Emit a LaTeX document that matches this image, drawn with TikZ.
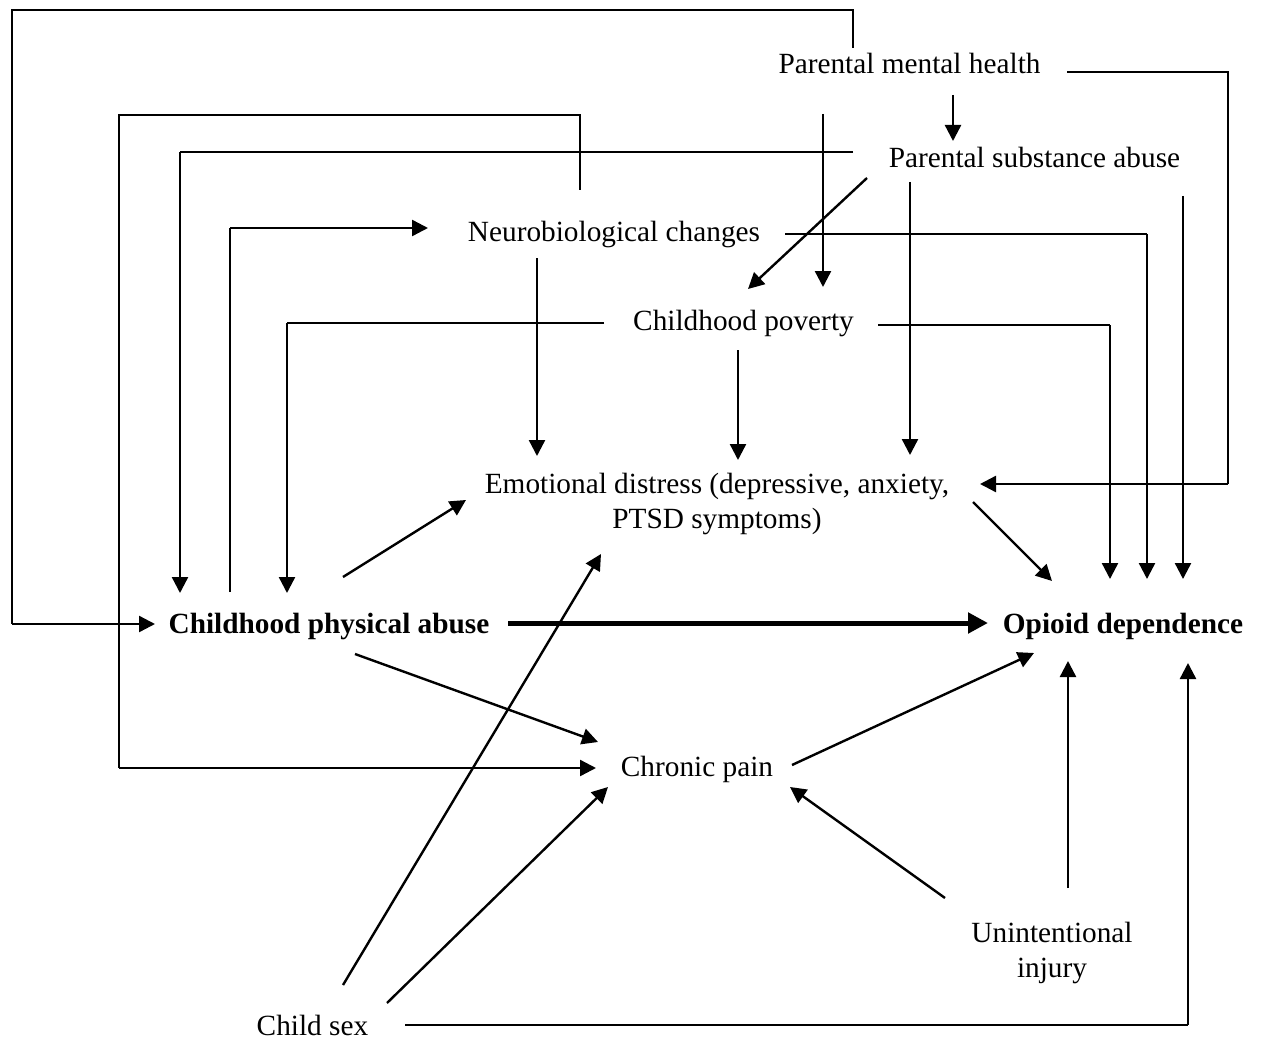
\documentclass[tikz,border=0pt]{standalone}
\usepackage{fontspec}
\setmainfont{Liberation Serif}
\usetikzlibrary{arrows.meta}
\begin{document}
\begin{tikzpicture}[x=1pt,y=-1pt,
  lbl/.style={inner sep=0pt, font=\fontsize{29.3}{35.5}\selectfont},
  wire/.style={line width=1.2pt},
  arr/.style={line width=2.4pt,-{Triangle[length=16pt,width=16pt]}},
  bigarr/.style={line width=5pt,-{Triangle[length=20pt,width=20pt]}}]
\fill[white] (0,0) rectangle (1261,1043);
\useasboundingbox (0,0) rectangle (1261,1043);
% nodes
\node[lbl,anchor=base] (pmh) at (909.5,74) {Parental mental health};
\node[lbl,anchor=base] (psa) at (1034.5,168) {Parental substance abuse};
\node[lbl,anchor=base] (neuro) at (614,241) {Neurobiological changes};
\node[lbl,anchor=base] (pov) at (743.5,330) {Childhood poverty};
\node[lbl,align=center] (emo) at (717,504) {Emotional distress (depressive, anxiety,\\PTSD symptoms)};
\node[lbl,anchor=base] (cpa) at (329,633) {\bfseries Childhood physical abuse};
\node[lbl,anchor=base] (opi) at (1123,633) {\bfseries Opioid dependence};
\node[lbl,anchor=base] (pain) at (697,776) {Chronic pain};
\node[lbl,align=center] (inj) at (1052,953) {Unintentional\\injury};
\node[lbl,anchor=base] (sex) at (312.5,1035) {Child sex};
% bend coordinates
\coordinate (b1) at (12,624);
\coordinate (b2) at (1228,484);
\coordinate (b3) at (180,152);
\coordinate (b4) at (119,768);
\coordinate (b5) at (230,228);
\coordinate (b6) at (1147,234);
\coordinate (b7) at (287,323);
\coordinate (b8) at (1110,325);
\coordinate (b9) at (1188,1025);
% parental mental health
\draw[wire] (853,48) |- (12,10) -- (b1);
\draw[arr] (b1) -- (155,624);
\draw[wire] (1067,72) -| (b2);
\draw[arr] (b2) -- (980,484);
\draw[arr] (953,95) -- (953,141);
\draw[arr] (823,114) -- (823,287);
% parental substance abuse
\draw[wire] (853,152) -- (b3);
\draw[arr] (b3) -- (180,593);
\draw[arr] (867,178) -- (748,289);
\draw[arr] (910,182) -- (910,455);
\draw[arr] (1183,196) -- (1183,579);
% neurobiological changes
\draw[wire] (580,190) |- (119,115) -- (b4);
\draw[arr] (b4) -- (596,768);
\draw[arr] (537,258) -- (537,456);
\draw[wire] (785,234) -- (b6);
\draw[arr] (b6) -- (1147,579);
% childhood physical abuse -> neuro
\draw[wire] (230,592) -- (b5);
\draw[arr] (b5) -- (428,228);
% childhood poverty
\draw[wire] (604,323) -- (b7);
\draw[arr] (b7) -- (287,593);
\draw[arr] (738,350) -- (738,460);
\draw[wire] (878,325) -- (b8);
\draw[arr] (b8) -- (1110,579);
% direct arrows
\draw[arr] (343,577) -- (466,500);
\draw[arr] (973,502) -- (1052,581);
\draw[bigarr] (508,623) -- (988,623);
\draw[arr] (355,654) -- (598,742);
\draw[arr] (792,765) -- (1034,653);
\draw[arr] (945,898) -- (790,787);
\draw[arr] (1068,888) -- (1068,661);
\draw[arr] (343,985) -- (601,554);
\draw[arr] (387,1003) -- (608,787);
\draw[wire] (405,1025) -- (b9);
\draw[arr] (b9) -- (1188,663);
\end{tikzpicture}
\end{document}
